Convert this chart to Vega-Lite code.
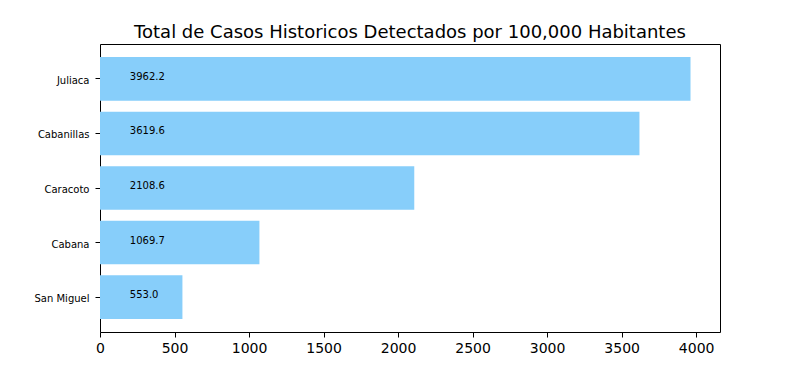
{
  "$schema": "https://vega.github.io/schema/vega-lite/v6.json",
  "width": 620,
  "height": 288,
  "autosize": {"type": "none"},
  "padding": {"left": 100, "top": 44, "right": 80, "bottom": 41},
  "background": "white",
  "title": {"text": "Total de Casos Historicos Detectados por 100,000 Habitantes", "font": "DejaVu Sans", "fontSize": 18, "fontWeight": "normal", "color": "black", "offset": 2},
  "config": {
    "view": {"stroke": "black", "strokeWidth": 1},
    "axis": {"labelFont": "DejaVu Sans", "domain": false, "grid": false, "tickColor": "black", "tickSize": 5, "labelColor": "black", "labelPadding": 4}
  },
  "data": {"values": [
    {"distrito": "Juliaca", "casos": 3962.2, "etiqueta": "3962.2"},
    {"distrito": "Cabanillas", "casos": 3619.6, "etiqueta": "3619.6"},
    {"distrito": "Caracoto", "casos": 2108.6, "etiqueta": "2108.6"},
    {"distrito": "Cabana", "casos": 1069.7, "etiqueta": "1069.7"},
    {"distrito": "San Miguel", "casos": 553.0, "etiqueta": "553.0"}
  ]},
  "encoding": {
    "y": {"field": "distrito", "type": "nominal", "sort": ["Juliaca", "Cabanillas", "Caracoto", "Cabana", "San Miguel"],
      "scale": {"paddingInner": 0.2, "paddingOuter": 0.24},
      "axis": {"title": null, "labelFontSize": 10, "labelPadding": 6, "labelOffset": 2}}
  },
  "layer": [
    {
      "mark": {"type": "bar", "color": "#87CEFA"},
      "encoding": {
        "x": {"field": "casos", "type": "quantitative", "scale": {"domain": [0, 4160], "nice": false},
          "axis": {"title": null, "values": [0, 500, 1000, 1500, 2000, 2500, 3000, 3500, 4000], "format": "d", "labelFontSize": 14, "labelFlush": false}}
      }
    },
    {
      "mark": {"type": "text", "align": "left", "baseline": "middle", "dy": -2, "font": "DejaVu Sans", "fontSize": 10, "color": "black"},
      "encoding": {
        "x": {"datum": 200, "type": "quantitative"},
        "text": {"field": "etiqueta"}
      }
    }
  ]
}
